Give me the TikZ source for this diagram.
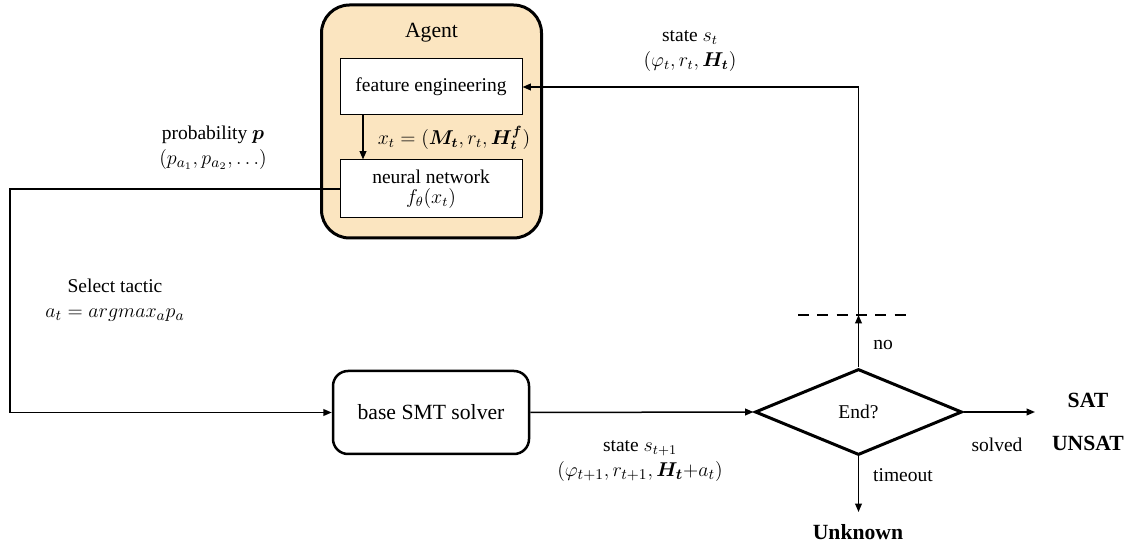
\documentclass[tikz,border=0pt]{standalone}
\usepackage{amsmath}
\usepackage{bm}
\usepackage{fontspec}
\setmainfont{Liberation Serif}
\usetikzlibrary{shapes.geometric,arrows.meta}
\definecolor{agentfill}{RGB}{251,229,192}
\newcommand{\bigmath}{\fontsize{12.9}{15}\selectfont}
\begin{document}
\begin{tikzpicture}[x=0.6pt,y=-0.6pt,
  every node/.style={font=\fontsize{11.7}{14}\selectfont, inner sep=0pt},
  big/.style={font=\fontsize{13}{15}\selectfont},
  arr/.style={line width=0.9pt,-{Triangle[length=5pt,width=4pt]}},
  innerbox/.style={draw, fill=white, line width=0.6pt, minimum width=109.2pt},
  twoline/.style={align=center, font=\fontsize{11.7}{15}\selectfont}]
\useasboundingbox (0,0) rectangle (1130,548);

% Agent container
\node[draw, line width=1.8pt, rounded corners=16.8pt, fill=agentfill,
      minimum width=132pt, minimum height=139.8pt] (agent) at (431.5,121.5) {};
\node[big] (agentlabel) at (431.5,33) {Agent};
\node[innerbox, minimum height=33.6pt] (fe) at (431,87) {feature engineering};
\node[innerbox, minimum height=34.8pt, align=center, font=\fontsize{11.7}{12}\selectfont] (nn) at (431,189) {neural network\\$f_{\theta}(x_t)$};
\node (xt) at (454,138) {$x_t = (\bm{M_t}, r_t, \bm{H_t^{f}})$};

% solver and decision
\node[draw, line width=1.5pt, rounded corners=9pt, minimum width=117.6pt,
      minimum height=49.8pt, big] (solver) at (431,412.5) {base SMT solver};
\node[draw, diamond, line width=1.8pt, minimum width=124.2pt,
      minimum height=51.6pt] (end) at (858.5,412) {End?};

% helper coordinates
\coordinate (fx) at (363,0);
\coordinate (lx) at (10,0);
\coordinate (dsh) at (858.5,315);
\coordinate (dl) at (798,315);
\coordinate (dr) at (907,315);
\coordinate (sa) at (1035,412);
\coordinate (un) at (858.5,512);

% connectors
\draw[arr] (fe.south -| fx) -- (nn.north -| fx);
\draw[arr] (nn.west) -- (nn.west -| lx) |- (solver.west);
\draw[arr] (solver.east) -- (end.west);
\draw[arr] (end.north) -- (dsh);
\draw[arr] (dsh) |- (fe.east);
\draw[line width=0.9pt, dash pattern=on 6.6pt off 5pt] (dl) -- (dr);
\draw[arr] (end.east) -- (sa);
\draw[arr] (end.south) -- (un);

% labels
\node[twoline] (st) at (690,51) {state $s_t$\\$(\varphi_t, r_t, \bm{H_t})$};
\node[twoline] (prob) at (213,148) {probability $\bm{p}$\\{\bigmath$(p_{a_1}, p_{a_2}, \ldots)$}};
\node[twoline] (sel) at (115,300) {Select tactic\\{\bigmath$a_t = argmax_a p_a$}};
\node[twoline] (st1) at (640,461) {state $s_{t+1}$\\{\bigmath$(\varphi_{t+1}, r_{t+1}, \bm{H_t}{+}a_t)$}};
\node (no) at (883,345) {no};
\node (solved) at (997,445) {solved};
\node (timeout) at (903,475) {timeout};
\node[big] (sat) at (1088,400) {\textbf{SAT}};
\node[big] (unsat) at (1088,443) {\textbf{UNSAT}};
\node[big] (unknown) at (858,532) {\textbf{Unknown}};
\end{tikzpicture}
\end{document}
